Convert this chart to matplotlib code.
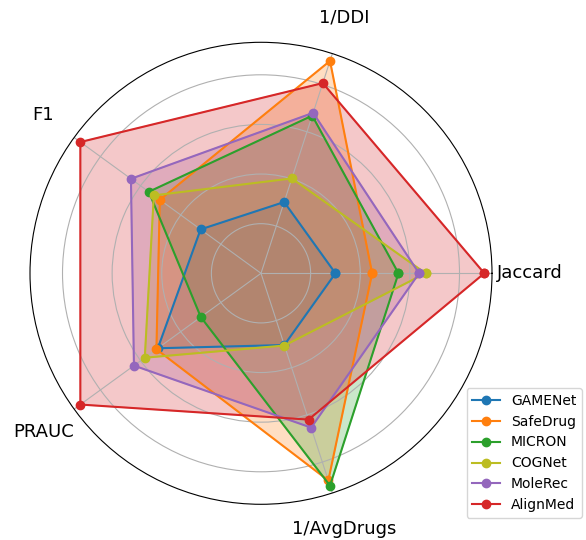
import numpy as np
import matplotlib
matplotlib.use("Agg")
import matplotlib.pyplot as plt

metrics = ["Jaccard", "1/DDI", "F1", "PRAUC", "1/AvgDrugs"]
models = ["GAMENet", "SafeDrug", "MICRON", "COGNet", "MoleRec", "AlignMed"]
colors = ["#1f77b4", "#ff7f0e", "#2ca02c", "#bcbd22", "#9467bd", "#d62728"]

# values per model, in metric order
gamenet = [0.300, 0.302, 0.301, 0.514, 0.304]
safedrug = [0.448, 0.900, 0.504, 0.521, 0.878]
micron = [0.554, 0.668, 0.559, 0.300, 0.900]
cognet = [0.663, 0.402, 0.534, 0.579, 0.306]
molerec = [0.637, 0.680, 0.648, 0.633, 0.654]
alignmed = [0.900, 0.806, 0.900, 0.900, 0.620]
series = [gamenet, safedrug, micron, cognet, molerec, alignmed]

n = len(metrics)
angles = np.linspace(0, 2 * np.pi, n, endpoint=False)
closed_angles = np.concatenate([angles, angles[:1]])

fig = plt.figure(figsize=(5.86, 5.40), dpi=100)
ax = fig.add_axes([0.0512, 0.0661, 0.7884, 0.8556], polar=True)

for name, vals, col in zip(models, series, colors):
    v = np.concatenate([vals, vals[:1]])
    ax.plot(closed_angles, v, color=col, marker="o", linewidth=1.5, label=name)
    ax.fill(closed_angles, v, color=col, alpha=0.25)

ax.set_ylim(0, 0.931)
ax.set_yticks([0.2, 0.4, 0.6, 0.8])
ax.set_yticklabels([])
ax.set_xticks(angles)
ax.set_xticklabels(metrics, fontsize=13)
ax.tick_params(axis="x", pad=17)

fig.legend(loc="lower right", bbox_to_anchor=(0.993, 0.041), borderaxespad=0, fontsize=10)

fig.savefig("out.png", dpi=100)
